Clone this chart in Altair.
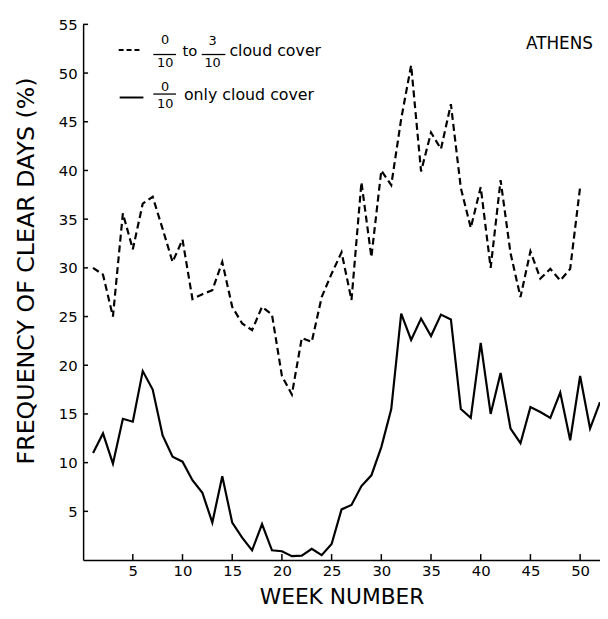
import altair as alt
import pandas as pd

# ---- data ----
weeks_dash = list(range(1, 51))
dash_vals = [30.0, 29.3, 25.0, 35.6, 31.9, 36.6, 37.3, 34.0, 30.6, 32.9,
             26.8, 27.3, 27.7, 30.6, 26.0, 24.3, 23.6, 26.0, 25.2, 18.9,
             17.0, 22.8, 22.4, 27.0, 29.4, 31.6, 26.7, 38.8, 31.1, 40.0,
             38.5, 45.3, 50.8, 39.9, 43.9, 42.2, 46.8, 38.2, 34.1, 38.3,
             30.0, 39.0, 31.5, 27.0, 31.7, 28.9, 29.9, 28.7, 29.9, 38.3]

weeks_solid = list(range(1, 53))
solid_vals = [11.0, 13.0, 9.9, 14.5, 14.2, 19.4, 17.5, 12.8, 10.6, 10.1,
              8.2, 6.9, 3.85, 8.6, 3.85, 2.3, 1.0, 3.7, 1.0, 0.9,
              0.4, 0.45, 1.15, 0.5, 1.65, 5.2, 5.65, 7.6, 8.7, 11.6,
              15.5, 25.3, 22.6, 24.8, 23.0, 25.2, 24.7, 15.5, 14.6, 22.3,
              15.0, 19.2, 13.5, 12.0, 15.7, 15.2, 14.6, 17.2, 12.3, 18.9,
              13.5, 16.2]

x_ticks = [5, 10, 15, 20, 25, 30, 35, 40, 45, 50]
y_ticks = [5, 10, 15, 20, 25, 30, 35, 40, 45, 50, 55]

FONT = "DejaVu Sans"
W, H = 523, 542

df_dash = pd.DataFrame({"week": weeks_dash, "freq": dash_vals})
df_solid = pd.DataFrame({"week": weeks_solid, "freq": solid_vals})
df_xt = pd.DataFrame({"t": x_ticks})
df_yt = pd.DataFrame({"t": y_ticks})
one = pd.DataFrame({"a": [0]})

xscale = alt.Scale(domain=[0, 52], nice=False, zero=False)
yscale = alt.Scale(domain=[0, 55], nice=False)

xaxis = alt.Axis(values=x_ticks, ticks=False, grid=False, labelPadding=4,
                 labelFontSize=15, labelFont=FONT, labelColor="black",
                 domainColor="black", domainWidth=1.5,
                 title="WEEK NUMBER", titleFont=FONT, titleFontSize=22,
                 titleFontWeight="normal", titleColor="black",
                 titleY=37, titleBaseline="middle")
yaxis = alt.Axis(values=y_ticks, ticks=False, grid=False, labelPadding=6,
                 labelFontSize=15, labelFont=FONT, labelColor="black",
                 domainColor="black", domainWidth=1.5,
                 title="FREQUENCY OF CLEAR DAYS (%)", titleFont=FONT,
                 titleFontSize=24, titleFontWeight="normal", titleColor="black",
                 titleX=-57, titleY=249, titleAlign="center",
                 titleBaseline="middle", titleAngle=270)

dashed = alt.Chart(df_dash).mark_line(color="black", strokeWidth=2.2,
                                      strokeDash=[7, 4]).encode(
    x=alt.X("week:Q", scale=xscale, axis=xaxis),
    y=alt.Y("freq:Q", scale=yscale, axis=yaxis),
)
solid = alt.Chart(df_solid).mark_line(color="black", strokeWidth=2.2).encode(
    x=alt.X("week:Q", scale=xscale),
    y=alt.Y("freq:Q", scale=yscale),
)

# inward ticks
xt = alt.Chart(df_xt).mark_rule(color="black", strokeWidth=1.5).encode(
    x=alt.X("t:Q", scale=xscale), y=alt.value(H), y2=alt.value(H - 6))
yt = alt.Chart(df_yt).mark_rule(color="black", strokeWidth=1.5).encode(
    y=alt.Y("t:Q", scale=yscale), x=alt.value(0), x2=alt.value(5))

def txt(s, x, y, size=16, align="center"):
    return alt.Chart(one).mark_text(font=FONT, fontSize=size, color="black",
                                    align=align, baseline="middle").encode(
        x=alt.value(x), y=alt.value(y), text=alt.value(s))

def rule(x1, x2, y, dash=None, w=1.3):
    kw = dict(color="black", strokeWidth=w)
    if dash:
        kw["strokeDash"] = dash
    return alt.Chart(one).mark_rule(**kw).encode(
        x=alt.value(x1), x2=alt.value(x2), y=alt.value(y))

legend = [
    rule(36, 59, 26, dash=[5, 3], w=2),
    txt("0", 83, 16, 13), rule(71, 94, 30.5), txt("10", 83, 39, 13),
    txt("to", 108, 27, 15),
    txt("3", 131, 17, 13), rule(120, 144, 30.5), txt("10", 131, 39, 13),
    txt("cloud cover", 148, 27, 16, "left"),
    rule(37, 61, 74, w=2),
    txt("0", 83, 63, 13), rule(71, 94, 70.5), txt("10", 83, 81, 13),
    txt("only cloud cover", 102, 72, 16, "left"),
    txt("ATHENS", 482, 20, 17),
]

chart = alt.layer(dashed, solid, xt, yt, *legend).properties(
    width=W, height=H,
    autosize=alt.AutoSizeParams(type="none"),
    padding={"left": 76, "top": 13, "right": 0, "bottom": 48},
).configure(background="white").configure_view(stroke=None)

chart.save("out.html", embed_options={"renderer": "svg", "actions": False})
